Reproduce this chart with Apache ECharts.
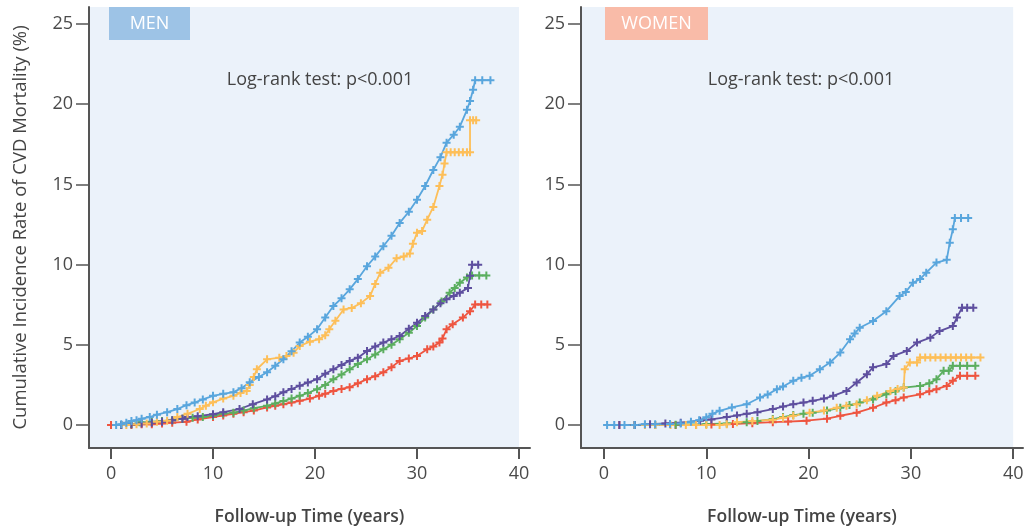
<!DOCTYPE html>
<html>
<head>
<meta charset="utf-8">
<script src="https://cdn.jsdelivr.net/npm/echarts@6/dist/echarts.min.js"></script>
<style>
  html, body { margin: 0; padding: 0; background: #fff; }
  #chart { width: 1031px; height: 531px; }
</style>
</head>
<body>
<div id="chart"></div>
<script>
// tick labels
const xTicks = [0, 10, 20, 30, 40];
const yTicks = [0, 5, 10, 15, 20, 25];
const groupColors = ["#EE5540", "#5BAE5F", "#5E4F9F", "#FDBF59", "#59A6DD"];

// MEN: [follow-up years, cumulative incidence %]
const menRed = [[0,0],[1,0],[2,0],[3,0.05],[4,0.05],[5,0.1],[6,0.15],[7.4,0.2],[8.5,0.35],[10,0.5],[11,0.6],[12,0.7],[13,0.8],[14,0.9],[15.3,1.1],[16.1,1.2],[16.9,1.3],[17.7,1.4],[18.5,1.51],[19.5,1.65],[20.4,1.82],[21,1.95],[21.8,2.13],[22.6,2.25],[23.4,2.36],[24.2,2.6],[25.1,2.86],[25.9,3.05],[26.7,3.29],[27.5,3.6],[28.3,4.0],[29.2,4.15],[30,4.31],[31,4.72],[31.6,4.9],[32.2,5.14],[32.5,5.4],[32.9,5.97],[33.5,6.28],[34.5,6.7],[35.2,7.1],[35.7,7.52],[36.3,7.52],[36.9,7.52]];
const menGreen = [[1,0],[2,0.05],[2.8,0.18],[4,0.2],[5,0.25],[6,0.3],[7,0.4],[8,0.45],[9,0.5],[10,0.58],[11,0.7],[12,0.77],[13,0.9],[14,1.05],[15.3,1.2],[16.1,1.35],[16.9,1.5],[17.7,1.65],[18.5,1.82],[19.3,2.0],[20.2,2.24],[21,2.5],[21.8,2.86],[22.6,3.15],[23.4,3.48],[24.2,3.8],[25.1,4.1],[25.9,4.4],[26.7,4.72],[27.5,5.0],[28.3,5.35],[29.2,5.75],[30,6.17],[30.8,6.7],[31.6,7.2],[32.4,7.7],[33.2,8.25],[33.7,8.55],[34.2,8.87],[34.9,9.2],[35.4,9.33],[36.1,9.33],[36.8,9.33]];
const menPurple = [[1,0],[2,0.05],[3,0.1],[4,0.15],[5,0.2],[6,0.3],[7,0.4],[7.5,0.5],[8.5,0.55],[10,0.68],[11,0.8],[12.6,1.0],[13.9,1.3],[15.3,1.6],[16.1,1.8],[16.9,2.05],[17.7,2.25],[18.5,2.45],[19.3,2.65],[20.2,2.86],[21,3.2],[21.8,3.48],[22.6,3.75],[23.4,4.0],[24.2,4.2],[25.1,4.62],[25.9,4.9],[26.7,5.14],[27.5,5.35],[28.3,5.55],[29.2,6.0],[30,6.37],[30.8,6.8],[31.6,7.2],[32.3,7.6],[32.9,7.84],[33.6,8.05],[34.2,8.25],[35,8.55],[35.2,9.3],[35.4,10.0],[36,10.0]];
const menOrange = [[1.5,0],[2.5,0.05],[3.5,0.1],[4.5,0.2],[5.5,0.27],[6.5,0.5],[7.5,0.7],[8.7,1.0],[9.3,1.2],[10,1.42],[11,1.65],[12,1.82],[12.7,2.0],[13.3,2.13],[13.6,2.5],[14,3.0],[14.3,3.48],[15.3,4.1],[16.5,4.2],[17.2,4.3],[17.9,4.5],[18.5,4.93],[19.5,5.2],[20.4,5.35],[21,5.6],[21.4,5.97],[22,6.5],[22.8,7.2],[23.6,7.3],[24.5,7.6],[25.4,8.04],[25.9,8.8],[26.4,9.5],[27.2,9.8],[28,10.4],[28.7,10.5],[29.3,10.7],[29.6,11.3],[30,11.98],[30.5,12.1],[31,12.8],[31.6,13.6],[32.2,14.9],[32.5,15.6],[32.7,16.3],[32.9,17.0],[33.3,17.0],[33.7,17.0],[34.1,17.0],[34.5,17.0],[34.9,17.0],[35.2,17.0],[35.2,19.0],[35.5,19.0],[35.8,19.0]];
const menBlue = [[0.5,0],[1,0.05],[1.5,0.15],[2,0.25],[2.5,0.3],[3,0.4],[3.8,0.5],[4.5,0.65],[5.5,0.8],[6.5,1.0],[7.4,1.24],[8.2,1.4],[9,1.6],[10,1.82],[11,1.95],[12,2.05],[12.8,2.3],[13.6,2.67],[14.5,3.0],[15.3,3.29],[16.1,3.7],[16.9,4.1],[17.7,4.6],[18.5,5.14],[19.3,5.5],[20.2,5.97],[21,6.7],[21.8,7.42],[22.6,7.9],[23.4,8.46],[24.2,9.1],[25.1,9.9],[25.9,10.5],[26.7,11.15],[27.5,11.8],[28.3,12.6],[29.2,13.3],[30,14.05],[30.8,14.9],[31.6,15.9],[32.3,16.7],[32.9,17.6],[33.6,18.1],[34.2,18.6],[34.9,19.65],[35.2,20.2],[35.5,20.9],[35.7,21.5],[36.4,21.5],[37.2,21.5]];

// WOMEN
const womenRed = [[1.5,0],[3,0],[5,0],[7,0],[9,0],[10.5,0.03],[12.6,0.06],[14.5,0.12],[16.5,0.18],[18,0.22],[19.8,0.27],[21.8,0.4],[23.1,0.58],[24.7,0.77],[26.3,1.08],[27.6,1.4],[28.5,1.55],[29.3,1.72],[30.9,1.92],[31.8,2.1],[32.5,2.24],[33.5,2.44],[34.1,2.76],[34.8,3.07],[35.5,3.07],[36.3,3.07]];
const womenGreen = [[3,0],[5,0],[7,0.02],[10,0.06],[12,0.1],[13.95,0.18],[15,0.25],[16.5,0.37],[17.5,0.5],[18.5,0.62],[19.5,0.7],[20.4,0.77],[21.8,0.9],[23.1,1.08],[24,1.25],[25,1.4],[26.3,1.6],[27.6,1.92],[28.5,2.1],[29.3,2.34],[30.9,2.44],[31.8,2.6],[32.5,2.86],[33.2,3.38],[33.7,3.38],[34.1,3.69],[34.8,3.69],[35.5,3.69],[36.3,3.69]];
const womenPurple = [[1.5,0],[3,0],[4.5,0.05],[6,0.1],[7.5,0.15],[9.4,0.27],[10.5,0.35],[12,0.5],[13,0.6],[13.95,0.7],[15,0.8],[16.5,1.0],[17.5,1.15],[18.5,1.3],[19.5,1.4],[20.4,1.51],[21.5,1.65],[22.4,1.82],[23.7,2.13],[24.7,2.65],[25.7,3.17],[26.3,3.6],[27.6,3.8],[28.3,4.31],[29.6,4.62],[30.6,5.14],[31.9,5.45],[32.8,5.86],[34.1,6.17],[34.5,6.7],[35,7.32],[35.5,7.32],[36.1,7.32]];
const womenOrange = [[4,0],[5,0],[6.5,0],[8,0],[9,0],[10,0],[11.3,0],[12,0.05],[13,0.18],[14.5,0.25],[16.5,0.33],[17.5,0.45],[18.5,0.58],[20.1,0.77],[21.5,0.9],[22.75,1.08],[23.7,1.2],[24.7,1.3],[25.7,1.55],[26.7,1.82],[28,2.13],[28.7,2.25],[29.3,2.34],[29.4,3.48],[29.9,3.9],[30.6,3.9],[30.9,4.21],[31.4,4.21],[31.9,4.21],[32.4,4.21],[32.9,4.21],[33.4,4.21],[33.9,4.21],[34.4,4.21],[34.9,4.21],[35.4,4.21],[35.9,4.21],[36.8,4.21]];
const womenBlue = [[0.3,0],[1,0],[2,0],[3,0],[4,0.05],[5,0.05],[6.45,0.06],[7.5,0.1],[8.5,0.2],[9.3,0.3],[10,0.48],[10.6,0.7],[11.3,0.89],[12.5,1.1],[13.95,1.3],[15.25,1.72],[16,1.9],[16.9,2.24],[17.5,2.4],[18.5,2.76],[19.3,2.95],[20.1,3.07],[21.1,3.48],[22.1,3.9],[23.1,4.52],[24.05,5.35],[24.5,5.7],[25,6.07],[26.3,6.49],[27.6,7.1],[28.9,8.04],[29.5,8.3],[30.2,8.87],[30.9,9.1],[31.5,9.5],[32.5,10.13],[33.5,10.3],[33.8,11.36],[34.1,12.2],[34.3,12.9],[34.9,12.9],[35.6,12.9]];

const menSeries = [menRed, menGreen, menPurple, menOrange, menBlue];
const womenSeries = [womenRed, womenGreen, womenPurple, womenOrange, womenBlue];

const FONT = "Open Sans";
const axisColor = "#555";
const plus = "path://M3,0H5V3H8V5H5V8H3V5H0V3H3Z";

// axis extents so that the axes meet at the corner like the figure
const xMin = [-2.16, -2.25], xMax = [41.08, 40.96];
const yMin = -1.43, yMax = 26.06;

const chart = echarts.init(document.getElementById("chart"));

function xAxis(i) {
  return {
    type: "value", gridIndex: i, min: xMin[i], max: xMax[i], z: 5,
    name: "Follow-up Time (years)", nameLocation: "middle", nameGap: 60,
    nameTextStyle: { fontFamily: FONT, fontSize: 17.5, fontWeight: 600, color: "#444" },
    axisLine: { onZero: false, lineStyle: { color: axisColor, width: 2 } },
    axisTick: { customValues: xTicks, length: 11, lineStyle: { color: axisColor, width: 2 } },
    axisLabel: { customValues: xTicks, margin: 17, fontFamily: FONT, fontSize: 18, color: "#4a4a4a" },
    splitLine: { show: false }
  };
}
function yAxis(i) {
  return {
    type: "value", gridIndex: i, min: yMin, max: yMax, z: 5,
    name: i === 0 ? "Cumulative Incidence Rate of CVD Mortality (%)" : "",
    nameLocation: "middle", nameGap: 59, nameRotate: 90,
    nameTextStyle: { fontFamily: FONT, fontSize: 18.5, color: "#444" },
    axisLine: { show: true, onZero: false, lineStyle: { color: axisColor, width: 2 } },
    axisTick: { show: true, customValues: yTicks, length: 13, lineStyle: { color: axisColor, width: 1.5 } },
    axisLabel: { customValues: yTicks, margin: 16, fontFamily: FONT, fontSize: 18, color: "#4a4a4a" },
    splitLine: { show: false }
  };
}

const series = [];
[menSeries, womenSeries].forEach((group, gi) => {
  // panel background
  series.push({
    type: "line", xAxisIndex: gi, yAxisIndex: gi, data: [], z: 1, silent: true,
    markArea: {
      silent: true,
      itemStyle: { color: "#EBF2FA" },
      data: [[{ xAxis: xMin[gi], yAxis: yMin }, { xAxis: 40, yAxis: yMax }]]
    }
  });
  group.forEach((d, k) => {
    series.push({
      type: "line", xAxisIndex: gi, yAxisIndex: gi, data: d, z: 3,
      color: groupColors[k], showSymbol: true, showAllSymbol: true,
      symbol: plus, symbolSize: 8,
      lineStyle: { width: 1.8, color: groupColors[k] },
      itemStyle: { color: groupColors[k] }
    });
  });
});

chart.setOption({
  animation: false,
  grid: [
    { left: 89, right: 501, top: 7, bottom: 82 },
    { left: 581, right: 8, top: 7, bottom: 82 }
  ],
  xAxis: [xAxis(0), xAxis(1)],
  yAxis: [yAxis(0), yAxis(1)],
  series: series,
  graphic: [
    { type: "rect", left: 109, top: 7, shape: { width: 81, height: 33 }, style: { fill: "#9DC3E6" }, z: 10 },
    { type: "text", x: 149.5, y: 24, style: { text: "MEN", fill: "#fff", font: "18px 'Open Sans'", align: "center", verticalAlign: "middle" }, z: 11 },
    { type: "rect", left: 605, top: 7, shape: { width: 103, height: 33 }, style: { fill: "#F9BBA8" }, z: 10 },
    { type: "text", x: 656.5, y: 24, style: { text: "WOMEN", fill: "#fff", font: "18px 'Open Sans'", align: "center", verticalAlign: "middle" }, z: 11 },
    { type: "text", x: 320, y: 80, style: { text: "Log-rank test: p<0.001", fill: "#444", font: "18px 'Open Sans'", align: "center", verticalAlign: "middle" }, z: 11 },
    { type: "text", x: 801, y: 80, style: { text: "Log-rank test: p<0.001", fill: "#444", font: "18px 'Open Sans'", align: "center", verticalAlign: "middle" }, z: 11 }
  ]
});
</script>
</body>
</html>
